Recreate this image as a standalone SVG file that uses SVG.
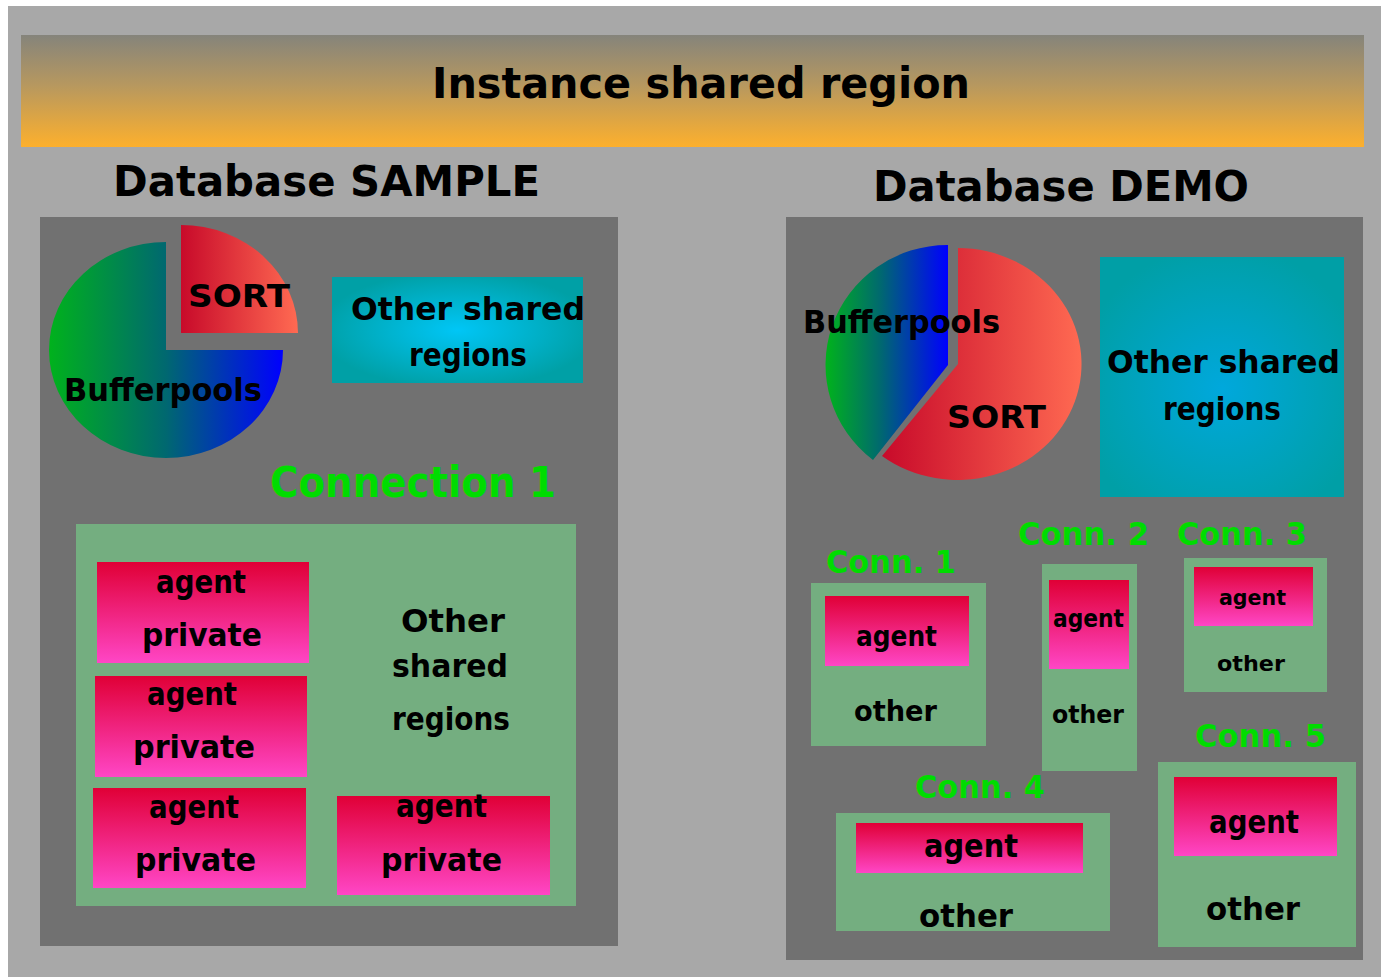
<svg xmlns="http://www.w3.org/2000/svg" width="1381" height="977" viewBox="0 0 1381 977">
  <defs>
    <linearGradient id="bannerGrad" x1="0" y1="0" x2="0" y2="1">
      <stop offset="0" stop-color="#85847b"/>
      <stop offset="0.45" stop-color="#b7985f"/>
      <stop offset="1" stop-color="#fdb02d"/>
    </linearGradient>
    <linearGradient id="bufL" gradientUnits="userSpaceOnUse" x1="49" y1="0" x2="283" y2="0">
      <stop offset="0" stop-color="#00b21c"/>
      <stop offset="0.5" stop-color="#006870"/>
      <stop offset="1" stop-color="#0000ff"/>
    </linearGradient>
    <linearGradient id="sortL" gradientUnits="userSpaceOnUse" x1="181" y1="0" x2="298" y2="0">
      <stop offset="0" stop-color="#c80a2a"/>
      <stop offset="1" stop-color="#ff6a52"/>
    </linearGradient>
    <linearGradient id="bufR" gradientUnits="userSpaceOnUse" x1="826" y1="0" x2="948" y2="0">
      <stop offset="0" stop-color="#00b21c"/>
      <stop offset="0.45" stop-color="#006870"/>
      <stop offset="1" stop-color="#0000ff"/>
    </linearGradient>
    <linearGradient id="sortR" gradientUnits="userSpaceOnUse" x1="882" y1="0" x2="1082" y2="0">
      <stop offset="0" stop-color="#c80a2a"/>
      <stop offset="1" stop-color="#ff6a52"/>
    </linearGradient>
    <radialGradient id="otherGradL" cx="0.5" cy="0.5" r="0.55">
      <stop offset="0" stop-color="#00c6f6"/>
      <stop offset="1" stop-color="#00a0a6"/>
    </radialGradient>
    <radialGradient id="otherGradR" cx="0.5" cy="0.55" r="0.6">
      <stop offset="0" stop-color="#00a8dc"/>
      <stop offset="1" stop-color="#009fa6"/>
    </radialGradient>
    <linearGradient id="agentGrad" x1="0" y1="0" x2="0" y2="1">
      <stop offset="0" stop-color="#e00036"/>
      <stop offset="1" stop-color="#ff46c6"/>
    </linearGradient>
  </defs>
  <style>
    text { font-family: "DejaVu Sans", "Liberation Sans", sans-serif; font-weight: bold; fill: #000; }
    .big { font-size: 42px; }
    .mid { font-size: 32px; }
    .green { fill: #00dc00; }
    .panel { fill: #717171; }
    .conn { fill: #74ae80; }
    .agent { fill: url(#agentGrad); }
  </style>

  <!-- page background -->
  <rect x="0" y="0" width="1381" height="977" fill="#ffffff"/>
  <rect x="8" y="6" width="1373" height="971" fill="#a8a8a8"/>

  <!-- instance-wide shared memory banner -->
  <g id="instance-banner">
    <rect x="21" y="35" width="1343" height="112" fill="url(#bannerGrad)"/>
    <text class="big" x="432" y="98" textLength="538" lengthAdjust="spacingAndGlyphs">Instance shared region</text>
  </g>

  <!-- database SAMPLE -->
  <g id="db-sample">
    <text class="big" x="113" y="196" font-size="44" textLength="427" lengthAdjust="spacingAndGlyphs">Database SAMPLE</text>
    <rect class="panel" x="40" y="217" width="578" height="729"/>
  </g>

  <g id="sample-pie">
    <path d="M166,350 L283,350 A117,108 0 1 1 166,242 Z" fill="url(#bufL)"/>
    <path d="M181,333 L181,225 A117,108 0 0 1 298,333 Z" fill="url(#sortL)"/>
    <text class="mid" x="188" y="307" textLength="102" lengthAdjust="spacingAndGlyphs">SORT</text>
    <text class="mid" x="64" y="401" textLength="198" lengthAdjust="spacingAndGlyphs">Bufferpools</text>
  </g>

  <g id="sample-other-shared">
    <rect x="332" y="277" width="251" height="106" fill="url(#otherGradL)"/>
    <text class="mid" x="351" y="320" textLength="234" lengthAdjust="spacingAndGlyphs">Other shared</text>
    <text class="mid" x="409" y="366" textLength="118" lengthAdjust="spacingAndGlyphs">regions</text>
  </g>

  <g id="sample-connection-1">
    <text class="big green" x="270" y="497" font-size="44" textLength="286" lengthAdjust="spacingAndGlyphs">Connection 1</text>
    <rect class="conn" x="76" y="524" width="500" height="382"/>
    <rect class="agent" x="97" y="562" width="212" height="101"/>
    <text class="mid" x="156" y="593" textLength="90" lengthAdjust="spacingAndGlyphs">agent</text>
    <text class="mid" x="142" y="646" textLength="120" lengthAdjust="spacingAndGlyphs">private</text>
    <rect class="agent" x="95" y="676" width="212" height="101"/>
    <text class="mid" x="147" y="705" textLength="90" lengthAdjust="spacingAndGlyphs">agent</text>
    <text class="mid" x="133" y="758" textLength="122" lengthAdjust="spacingAndGlyphs">private</text>
    <rect class="agent" x="93" y="788" width="213" height="100"/>
    <text class="mid" x="149" y="818" textLength="90" lengthAdjust="spacingAndGlyphs">agent</text>
    <text class="mid" x="135" y="871" textLength="121" lengthAdjust="spacingAndGlyphs">private</text>
    <rect class="agent" x="337" y="796" width="213" height="99"/>
    <text class="mid" x="396" y="817" textLength="91" lengthAdjust="spacingAndGlyphs">agent</text>
    <text class="mid" x="381" y="871" textLength="121" lengthAdjust="spacingAndGlyphs">private</text>
    <text class="mid" x="401" y="632" textLength="104" lengthAdjust="spacingAndGlyphs">Other</text>
    <text class="mid" x="392" y="677" textLength="116" lengthAdjust="spacingAndGlyphs">shared</text>
    <text class="mid" x="392" y="730" textLength="118" lengthAdjust="spacingAndGlyphs">regions</text>
  </g>

  <!-- database DEMO -->
  <g id="db-demo">
    <text class="big" x="873" y="201" font-size="44" textLength="376" lengthAdjust="spacingAndGlyphs">Database DEMO</text>
    <rect class="panel" x="786" y="217" width="577" height="743"/>
  </g>

  <g id="demo-pie">
    <path d="M948,365 L873,460 A122,120 0 0 1 948,245 Z" fill="url(#bufR)"/>
    <path d="M958,364 L958,248 A124,116 0 1 1 882,456 Z" fill="url(#sortR)"/>
    <text class="mid" x="803" y="333" textLength="197" lengthAdjust="spacingAndGlyphs">Bufferpools</text>
    <text class="mid" x="947" y="428" textLength="99" lengthAdjust="spacingAndGlyphs">SORT</text>
  </g>

  <g id="demo-other-shared">
    <rect x="1100" y="257" width="244" height="240" fill="url(#otherGradR)"/>
    <text class="mid" x="1107" y="373" textLength="233" lengthAdjust="spacingAndGlyphs">Other shared</text>
    <text class="mid" x="1163" y="420" textLength="118" lengthAdjust="spacingAndGlyphs">regions</text>
  </g>

  <g id="demo-conn-1">
    <text class="mid green" x="826" y="573" font-size="34" textLength="130" lengthAdjust="spacingAndGlyphs">Conn. 1</text>
    <rect class="conn" x="811" y="583" width="175" height="163"/>
    <rect class="agent" x="825" y="596" width="144" height="70"/>
    <text x="856" y="646" font-size="28" textLength="81" lengthAdjust="spacingAndGlyphs">agent</text>
    <text x="854" y="721" font-size="28" textLength="83" lengthAdjust="spacingAndGlyphs">other</text>
  </g>

  <g id="demo-conn-2">
    <text class="mid green" x="1018" y="545" font-size="34" textLength="131" lengthAdjust="spacingAndGlyphs">Conn. 2</text>
    <rect class="conn" x="1042" y="564" width="95" height="207"/>
    <rect class="agent" x="1049" y="580" width="80" height="89"/>
    <text x="1053" y="627" font-size="24" textLength="71" lengthAdjust="spacingAndGlyphs">agent</text>
    <text x="1052" y="723" font-size="24" textLength="72" lengthAdjust="spacingAndGlyphs">other</text>
  </g>

  <g id="demo-conn-3">
    <text class="mid green" x="1177" y="545" font-size="34" textLength="130" lengthAdjust="spacingAndGlyphs">Conn. 3</text>
    <rect class="conn" x="1184" y="558" width="143" height="134"/>
    <rect class="agent" x="1194" y="567" width="119" height="59"/>
    <text x="1219" y="605" font-size="22" font-weight="normal" textLength="67" lengthAdjust="spacingAndGlyphs">agent</text>
    <text x="1217" y="671" font-size="22" font-weight="normal" textLength="68" lengthAdjust="spacingAndGlyphs">other</text>
  </g>

  <g id="demo-conn-4">
    <text class="mid green" x="915" y="798" font-size="34" textLength="130" lengthAdjust="spacingAndGlyphs">Conn. 4</text>
    <rect class="conn" x="836" y="813" width="274" height="118"/>
    <rect class="agent" x="856" y="823" width="227" height="50"/>
    <text class="mid" x="924" y="857" textLength="94" lengthAdjust="spacingAndGlyphs">agent</text>
    <text class="mid" x="919" y="927" textLength="94" lengthAdjust="spacingAndGlyphs">other</text>
  </g>

  <g id="demo-conn-5">
    <text class="mid green" x="1195" y="747" font-size="34" textLength="131" lengthAdjust="spacingAndGlyphs">Conn. 5</text>
    <rect class="conn" x="1158" y="762" width="198" height="185"/>
    <rect class="agent" x="1174" y="777" width="163" height="79"/>
    <text class="mid" x="1209" y="833" textLength="90" lengthAdjust="spacingAndGlyphs">agent</text>
    <text class="mid" x="1206" y="920" textLength="94" lengthAdjust="spacingAndGlyphs">other</text>
  </g>
</svg>
